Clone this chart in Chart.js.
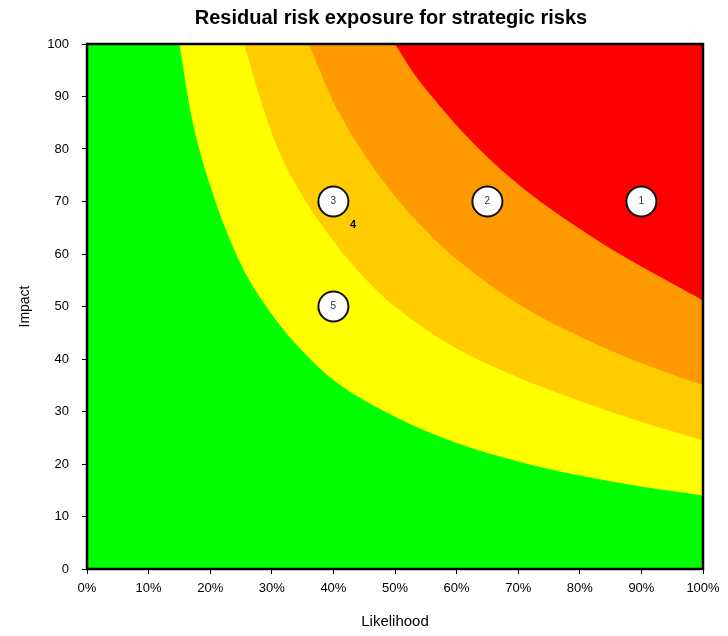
<!doctype html>
<html lang="en">
  <head>
    <meta charset="utf-8">
    <title>Residual risk exposure for strategic risks</title>
    <style>
      html, body { margin: 0; padding: 0; background: #fff; }
      .chartBox { width: 728px; height: 636px; }
    </style>
  </head>
  <body>
    <div class="chartBox">
      <canvas id="myChart"></canvas>
    </div>
    <script src="https://cdn.jsdelivr.net/npm/chart.js/dist/chart.umd.min.js"></script>
    <script>
    const chartTitle = 'Residual risk exposure for strategic risks';

    // zone boundaries (likelihood %, impact)
    const yellowX = [15, 17, 20, 25, 30, 35, 40, 50, 60, 70, 80, 90, 100];
    const yellowY = [100, 86, 73, 58, 48.5, 41.5, 36, 29, 24, 20.5, 17.8, 15.7, 14];

    const amberX = [25.5, 28, 31, 35, 40, 45, 50, 60, 70, 80, 90, 100];
    const amberY = [100, 90, 80, 71, 62.5, 55.5, 50, 42, 36.5, 32, 28, 24.5];

    const orangeX = [36, 40, 45, 50, 55, 60, 70, 80, 90, 100];
    const orangeY = [100, 89, 79, 71, 64.5, 59, 50.5, 44.3, 39.2, 35];

    const redX = [50, 53, 56, 60, 65, 70, 75, 80, 85, 90, 95, 100];
    const redY = [100, 94.5, 90, 84.5, 78.5, 73.3, 68.8, 64.8, 61, 57.6, 54.4, 51.2];

    // risks
    const riskLabels = ['1', '2', '3', '5'];
    const riskX = [90, 65, 40, 40];
    const riskY = [70, 70, 70, 50];

    // risk 4 sits under risk 3, only its label shows
    const hiddenLabels = ['4'];
    const hiddenX = [43.2];
    const hiddenY = [65.5];

    function pts(xs, ys) {
      return xs.map((x, i) => ({ x: x, y: ys[i] }));
    }

    function zone(label, xs, ys, color, order) {
      return {
        label: label,
        data: pts(xs, ys),
        showLine: true,
        fill: 'end',
        backgroundColor: color,
        borderColor: color,
        borderWidth: 0,
        pointRadius: 0,
        cubicInterpolationMode: 'monotone',
        order: order
      };
    }

    const FONT = "'Liberation Sans', Arial, sans-serif";

    // green background of the plot area, frame, and title centred over the plot
    const plotFrame = {
      id: 'plotFrame',
      beforeDatasetsDraw(chart) {
        const a = chart.chartArea, ctx = chart.ctx;
        ctx.save();
        ctx.fillStyle = '#00ff00';
        ctx.fillRect(a.left, a.top, a.right - a.left, a.bottom - a.top);
        ctx.restore();
      },
      afterDraw(chart) {
        const a = chart.chartArea, ctx = chart.ctx;
        ctx.save();
        ctx.strokeStyle = '#000';
        ctx.lineWidth = 2.5;
        ctx.strokeRect(a.left, a.top, a.right - a.left, a.bottom - a.top);
        ctx.fillStyle = '#000';
        ctx.font = 'bold 20px ' + FONT;
        ctx.textAlign = 'center';
        ctx.textBaseline = 'middle';
        ctx.fillText(chartTitle, (a.left + a.right) / 2 - 4, 18);
        ctx.restore();
      }
    };

    // numbers inside / next to the risk bubbles
    const riskText = {
      id: 'riskText',
      afterDatasetsDraw(chart) {
        const ctx = chart.ctx;
        ctx.save();
        ctx.textAlign = 'center';
        ctx.textBaseline = 'middle';
        chart.data.datasets.forEach((ds, di) => {
          if (!ds.texts) return;
          const meta = chart.getDatasetMeta(di);
          meta.data.forEach((el, i) => {
            ctx.font = ds.textFont;
            ctx.fillStyle = ds.textColor;
            ctx.fillText(ds.texts[i], el.x, el.y);
          });
        });
        ctx.restore();
      }
    };

    const data = {
      datasets: [
        {
          label: 'Risks',
          data: pts(riskX, riskY),
          texts: riskLabels,
          textFont: "10px " + FONT,
          textColor: '#2a3140',
          pointRadius: 15,
          pointBackgroundColor: '#fff',
          pointBorderColor: '#111',
          pointBorderWidth: 2,
          order: 0
        },
        {
          label: 'Risk 4',
          data: pts(hiddenX, hiddenY),
          texts: hiddenLabels,
          textFont: "bold 11px " + FONT,
          textColor: '#000',
          pointRadius: 0,
          order: 0
        },
        zone('Red', redX, redY, '#ff0000', 1),
        zone('Orange', orangeX, orangeY, '#ff9900', 2),
        zone('Amber', amberX, amberY, '#ffcc00', 3),
        zone('Yellow', yellowX, yellowY, '#ffff00', 4)
      ]
    };

    const config = {
      type: 'scatter',
      data,
      plugins: [plotFrame, riskText],
      options: {
        responsive: false,
        animation: false,
        events: [],
        layout: { padding: { left: 0, right: 25, top: 44, bottom: 0 } },
        plugins: {
          legend: { display: false },
          tooltip: { enabled: false },
          title: { display: false }
        },
        scales: {
          x: {
            type: 'linear',
            min: 0,
            max: 100,
            afterFit(scale) { scale.height = 67; },
            ticks: {
              stepSize: 10,
              color: '#000',
              padding: 7,
              font: { family: FONT, size: 13 },
              callback: v => v + '%'
            },
            grid: { drawOnChartArea: false, color: '#000', tickLength: 5 },
            border: { color: '#000', width: 2 },
            title: {
              display: true,
              text: 'Likelihood',
              color: '#000',
              font: { family: FONT, size: 15 },
              padding: { top: 0, bottom: 5 }
            }
          },
          y: {
            min: 0,
            max: 100,
            afterFit(scale) { scale.width = 87; },
            ticks: {
              stepSize: 10,
              color: '#000',
              padding: 13,
              font: { family: FONT, size: 13 }
            },
            grid: { drawOnChartArea: false, color: '#000', tickLength: 5 },
            border: { color: '#000', width: 2 },
            title: {
              display: true,
              text: 'Impact',
              color: '#000',
              font: { family: FONT, size: 14 },
              padding: { top: 17, bottom: 0 }
            }
          }
        }
      }
    };

    const canvas = document.getElementById('myChart');
    canvas.width = 728;
    canvas.height = 636;
    const myChart = new Chart(canvas, config);
    </script>
  </body>
</html>
